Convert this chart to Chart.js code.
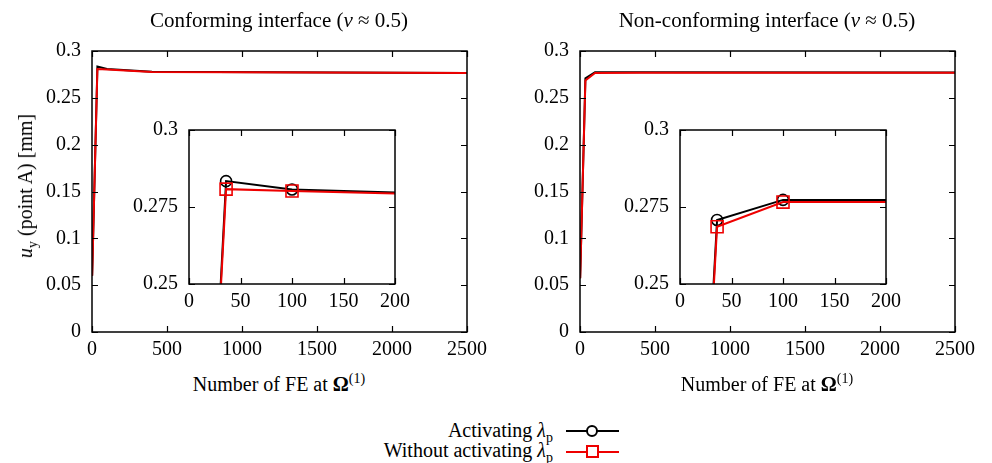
<!DOCTYPE html>
<html>
<head>
<meta charset="utf-8">
<script src="https://cdn.jsdelivr.net/npm/chart.js@4"></script>
<style>
body { margin: 0; background: #fff; font-family: "Liberation Serif", serif; }
#page { position: relative; width: 992px; height: 463px; overflow: hidden; }
canvas { position: absolute; }
.lbl { position: absolute; font-size: 20px; white-space: nowrap; color: #000; line-height: 24px; }
.ttl { font-size: 21px; }
.ctr { transform: translateX(-50%); }
sub, sup { font-size: 14px; line-height: 0; }
.swatch { position: absolute; height: 2px; }
.mk { position: absolute; box-sizing: border-box; background: #fff; }
</style>
</head>
<body>
<div id="page">
  <canvas id="mainL" width="500" height="370" style="left:0;top:0"></canvas>
  <canvas id="mainR" width="500" height="370" style="left:488px;top:0"></canvas>
  <canvas id="insetL" width="300" height="215" style="left:120px;top:100px"></canvas>
  <canvas id="insetR" width="300" height="215" style="left:611px;top:100px"></canvas>

  <div class="lbl ttl ctr" style="left:279px;top:8px">Conforming interface (<i>ν</i> ≈ 0.5)</div>
  <div class="lbl ttl ctr" style="left:767px;top:8px">Non-conforming interface (<i>ν</i> ≈ 0.5)</div>
  <div class="lbl" style="left:25px;top:186px;transform:translate(-50%,-50%) rotate(-90deg)"><i>u</i><sub>y</sub> (point A) [mm]</div>
  <div class="lbl ctr" style="left:279px;top:372px">Number of FE at <b>Ω</b><sup>(1)</sup></div>
  <div class="lbl ctr" style="left:767px;top:372px">Number of FE at <b>Ω</b><sup>(1)</sup></div>

  <div class="lbl" style="right:439px;top:418px">Activating <i>λ</i><sub>p</sub></div>
  <div class="lbl" style="right:439px;top:438px">Without activating <i>λ</i><sub>p</sub></div>
  <div class="swatch" style="left:566px;top:430px;width:53px;background:#000"></div>
  <div class="mk" style="left:586px;top:425px;width:12px;height:12px;border:2px solid #000;border-radius:50%"></div>
  <div class="swatch" style="left:566px;top:451px;width:53px;background:#e00"></div>
  <div class="mk" style="left:586px;top:445px;width:13px;height:13px;border:2px solid #e00"></div>
</div>
<script>
// number of finite elements at Omega(1)
const feCount = [1, 36, 100, 400, 2500];

// conforming interface
const confActive = [0.060, 0.2834, 0.2807, 0.2778, 0.2765];
const confWithout = [0.060, 0.2808, 0.2802, 0.2777, 0.2765];

// non-conforming interface
const nonActive = [0.0573, 0.2708, 0.2773, 0.2772, 0.2770];
const nonWithout = [0.0573, 0.2686, 0.2766, 0.2767, 0.2767];

const font = { family: '"Liberation Serif", serif', size: 20 };
const fmt = v => String(parseFloat(v.toFixed(4)));

// gnuplot style box with inward ticks on all four sides
const frame = {
  id: 'frame',
  beforeDraw(chart, args, opts) {
    if (!opts.fill) return;
    const { ctx, chartArea: a } = chart;
    ctx.save();
    ctx.fillStyle = '#fff';
    ctx.fillRect(a.left, a.top, a.right - a.left, a.bottom - a.top);
    ctx.restore();
  },
  afterDatasetsDraw(chart, args, opts) {
    const { ctx, chartArea: a, scales: { x, y } } = chart;
    const L = opts.tick || 6;
    ctx.save();
    ctx.strokeStyle = '#000';
    ctx.lineWidth = 1.2;
    ctx.beginPath();
    x.ticks.forEach(t => {
      const px = Math.round(x.getPixelForValue(t.value)) + 0.5;
      ctx.moveTo(px, a.bottom); ctx.lineTo(px, a.bottom - L);
      ctx.moveTo(px, a.top); ctx.lineTo(px, a.top + L);
    });
    y.ticks.forEach(t => {
      const py = Math.round(y.getPixelForValue(t.value)) + 0.5;
      ctx.moveTo(a.left, py); ctx.lineTo(a.left + L, py);
      ctx.moveTo(a.right, py); ctx.lineTo(a.right - L, py);
    });
    ctx.stroke();
    ctx.lineWidth = 1.5;
    ctx.strokeRect(a.left, a.top, a.right - a.left, a.bottom - a.top);
    ctx.restore();
  }
};

function axes(xmin, xmax, xstep, ymin, ymax, ystep, yw, xh) {
  return {
    x: {
      type: 'linear', min: xmin, max: xmax,
      ticks: { stepSize: xstep, font, color: '#000', padding: 6, maxRotation: 0, autoSkip: false, callback: fmt },
      grid: { display: false, drawTicks: false }, border: { display: false },
      afterFit(s) { s.height = xh; }
    },
    y: {
      type: 'linear', min: ymin, max: ymax,
      ticks: { stepSize: ystep, font, color: '#000', padding: 11, autoSkip: false, callback: fmt },
      grid: { display: false, drawTicks: false }, border: { display: false },
      afterFit(s) { s.width = yw; }
    }
  };
}

function series(active, without, inset) {
  const pts = arr => feCount.map((x, i) => ({ x, y: arr[i] }));
  return [
    {
      label: 'Activating', data: pts(active), order: 2,
      borderColor: '#000', borderWidth: 2, tension: 0,
      pointStyle: 'circle', pointRadius: inset ? 5.5 : 0,
      pointBorderColor: '#000', pointBorderWidth: 1.6, pointBackgroundColor: 'rgba(0,0,0,0)'
    },
    {
      label: 'Without activating', data: pts(without), order: 1,
      borderColor: '#e00', borderWidth: 2, tension: 0,
      pointStyle: 'rect', pointRadius: inset ? 8.5 : 0,
      pointBorderColor: '#e00', pointBorderWidth: 1.6, pointBackgroundColor: 'rgba(0,0,0,0)'
    }
  ];
}

function mainChart(id, active, without) {
  return new Chart(document.getElementById(id), {
    type: 'line',
    data: { datasets: series(active, without, false) },
    options: {
      responsive: false, animation: false,
      layout: { padding: { top: 51, right: 33, left: 0, bottom: 0 } },
      scales: axes(0, 2500, 500, 0, 0.3, 0.05, 92, 38),
      plugins: { legend: { display: false }, tooltip: { enabled: false }, frame: { fill: false, tick: 6 } }
    },
    plugins: [frame]
  });
}

function insetChart(id, active, without) {
  return new Chart(document.getElementById(id), {
    type: 'line',
    data: { datasets: series(active, without, true) },
    options: {
      responsive: false, animation: false,
      layout: { padding: { top: 30, right: 25, left: 0, bottom: 0 } },
      scales: axes(0, 200, 50, 0.25, 0.3, 0.025, 69, 31),
      plugins: { legend: { display: false }, tooltip: { enabled: false }, frame: { fill: true, tick: 6 } }
    },
    plugins: [frame]
  });
}

function drawAll() {
  mainChart('mainL', confActive, confWithout);
  mainChart('mainR', nonActive, nonWithout);
  insetChart('insetL', confActive, confWithout);
  insetChart('insetR', nonActive, nonWithout);
}

document.fonts.load('20px "Liberation Serif"').then(drawAll, drawAll);
</script>
</body>
</html>
